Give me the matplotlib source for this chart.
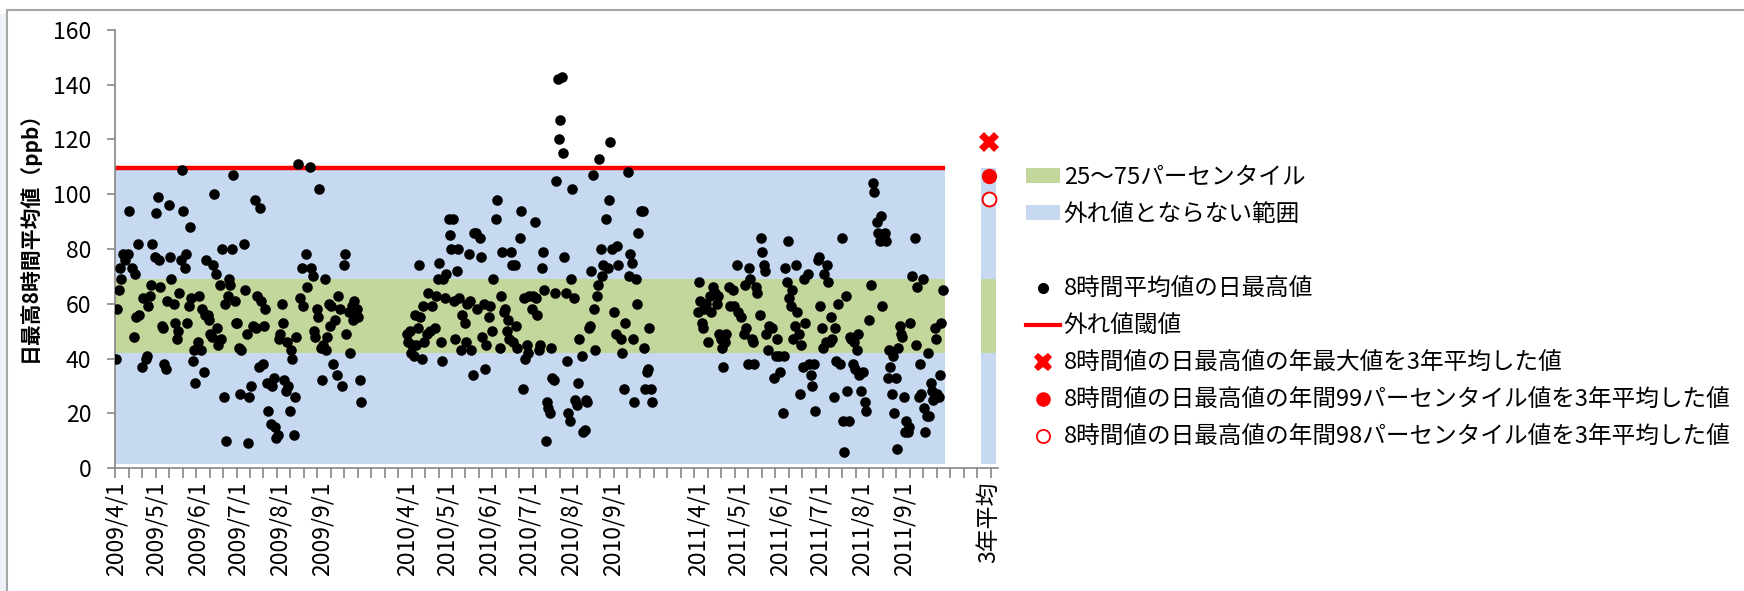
import numpy as np
import matplotlib.pyplot as plt
from matplotlib.patches import Patch, Rectangle
from matplotlib.lines import Line2D

plt.rcParams['font.family'] = ['Noto Sans CJK JP', 'DejaVu Sans']

# 日最高8時間平均値 (ppb)  day = 4/1からの日数
days_2009 = [0, 1, 2, 3, 4, 5, 7, 9, 10, 12, 13, 14, 15, 16, 17, 19, 20, 22, 23, 24,
             25, 26, 27, 29, 30, 31, 32, 33, 34, 35, 36, 37, 38, 39, 40, 41, 43, 44, 45, 46,
             47, 48, 49, 50, 51, 52, 53, 54, 55, 56, 57, 58, 59, 61, 62, 63, 64, 65, 66, 67,
             68, 69, 70, 71, 72, 73, 74, 75, 76, 77, 78, 79, 80, 81, 82, 83, 84, 85, 86, 87,
             88, 89, 90, 91, 92, 93, 95, 96, 97, 98, 99, 100, 102, 103, 104, 105, 106, 107, 108, 109,
             110, 111, 112, 113, 115, 116, 117, 118, 119, 120, 121, 122, 123, 124, 125, 126, 127, 128, 129, 130,
             131, 132, 133, 134, 135, 137, 138, 139, 141, 142, 144, 145, 146, 147, 148, 149, 150, 151, 152, 153,
             154, 155, 156, 157, 158, 159, 160, 161, 163, 164, 165, 166, 168, 169, 170, 171, 173, 174, 175, 176,
             177, 179, 180, 181, 182]
vals_2009 = [40, 58, 65, 73, 69, 78, 76, 78, 94, 73, 48, 71, 55, 82, 56, 37, 62, 40, 41, 59,
             63, 67, 82, 77, 93, 99, 76, 66, 52, 51, 38, 36, 61, 96, 77, 69, 60, 53, 47, 50,
             64, 76, 109, 94, 73, 78, 53, 59, 88, 62, 39, 43, 31, 46, 63, 43, 58, 35, 56, 76,
             56, 54, 49, 48, 74, 100, 71, 51, 45, 67, 47, 80, 26, 60, 10, 63, 69, 67, 80, 107,
             61, 53, 53, 44, 27, 43, 82, 65, 49, 9, 26, 30, 52, 98, 51, 63, 37, 95, 61, 38,
             52, 58, 31, 21, 16, 30, 33, 15, 11, 12, 47, 49, 60, 53, 32, 28, 46, 30, 21, 43,
             40, 12, 26, 48, 111, 62, 73, 59, 78, 66, 110, 73, 70, 50, 48, 58, 55, 102, 44, 32,
             45, 69, 43, 48, 60, 52, 59, 38, 54, 34, 63, 58, 30, 74, 78, 49, 57, 42, 59, 54,
             61, 58, 55, 32, 24]

days_2010 = [0, 1, 2, 3, 4, 5, 6, 7, 8, 9, 10, 11, 12, 13, 15, 16, 17, 19, 21, 22,
             23, 24, 25, 26, 27, 28, 29, 31, 32, 33, 34, 35, 36, 37, 38, 39, 40, 41, 43, 44,
             45, 46, 47, 48, 49, 50, 51, 52, 54, 55, 56, 57, 58, 59, 61, 62, 63, 64, 66, 67,
             69, 70, 71, 72, 73, 74, 75, 76, 77, 78, 79, 80, 81, 82, 84, 85, 86, 87, 88, 89,
             90, 91, 93, 94, 95, 96, 97, 98, 99, 100, 101, 102, 103, 104, 105, 106, 107, 108, 109, 110,
             111, 112, 113, 114, 115, 116, 117, 118, 119, 120, 121, 122, 123, 124, 125, 126, 127, 128, 130, 131,
             132, 133, 134, 135, 136, 137, 138, 139, 140, 141, 142, 143, 144, 145, 146, 148, 149, 150, 151, 152,
             154, 155, 156, 157, 159, 160, 161, 162, 164, 165, 166, 167, 168, 169, 170, 171, 172, 174, 175, 176,
             177, 178, 179, 180, 181, 182]
vals_2010 = [49, 46, 50, 42, 45, 41, 56, 45, 51, 74, 55, 40, 59, 46, 49, 64, 50, 59, 51, 63,
             69, 75, 46, 39, 69, 62, 71, 91, 85, 80, 91, 61, 47, 72, 80, 62, 43, 56, 53, 46,
             60, 78, 61, 43, 34, 86, 86, 58, 84, 77, 48, 60, 36, 45, 55, 59, 50, 69, 91, 98,
             44, 63, 79, 57, 58, 50, 54, 47, 79, 74, 46, 74, 52, 44, 84, 94, 29, 62, 40, 45,
             42, 63, 58, 63, 90, 62, 56, 43, 45, 73, 79, 65, 10, 24, 22, 20, 44, 33, 32, 64,
             105, 142, 120, 127, 143, 115, 77, 64, 39, 20, 17, 69, 102, 62, 25, 23, 31, 47, 41, 13,
             14, 25, 24, 51, 52, 72, 107, 58, 43, 63, 67, 113, 80, 70, 74, 91, 73, 98, 119, 80,
             57, 49, 81, 74, 47, 42, 29, 53, 108, 70, 78, 75, 47, 24, 69, 60, 86, 94, 94, 44,
             29, 35, 36, 51, 29, 24]

days_2011 = [0, 1, 2, 3, 4, 5, 6, 8, 9, 10, 11, 13, 14, 15, 16, 17, 18, 19, 20, 21,
             23, 24, 26, 27, 29, 30, 32, 34, 35, 36, 37, 38, 39, 40, 41, 42, 43, 44, 46, 47,
             48, 49, 50, 51, 52, 53, 55, 57, 58, 59, 60, 61, 63, 64, 65, 66, 67, 68, 69, 70,
             71, 72, 73, 74, 75, 76, 77, 78, 79, 80, 82, 83, 84, 85, 86, 87, 89, 90, 91, 92,
             93, 94, 95, 96, 97, 98, 99, 100, 101, 102, 103, 104, 106, 107, 108, 109, 110, 111, 112, 113,
             114, 115, 116, 117, 118, 119, 120, 121, 123, 124, 125, 127, 129, 130, 131, 133, 134, 135, 136, 137,
             139, 140, 141, 142, 143, 144, 145, 146, 147, 148, 149, 150, 151, 152, 153, 154, 155, 156, 157, 158,
             159, 161, 162, 163, 164, 165, 166, 167, 168, 169, 170, 171, 172, 173, 174, 175, 176, 177, 178, 179,
             180, 181, 182]
vals_2011 = [57, 68, 61, 53, 51, 58, 60, 46, 63, 57, 66, 64, 60, 63, 49, 47, 44, 37, 46, 49,
             66, 59, 65, 59, 74, 57, 55, 49, 67, 51, 38, 73, 69, 47, 46, 38, 66, 64, 56, 84,
             79, 74, 72, 49, 43, 52, 51, 33, 41, 47, 41, 35, 20, 41, 73, 68, 83, 62, 59, 65,
             47, 52, 74, 57, 49, 27, 45, 37, 69, 53, 71, 38, 34, 30, 38, 21, 76, 77, 59, 51,
             44, 71, 46, 74, 68, 46, 55, 47, 26, 51, 39, 60, 38, 84, 17, 6, 63, 28, 17, 48,
             47, 38, 46, 36, 43, 49, 34, 28, 35, 24, 21, 54, 67, 104, 101, 90, 86, 83, 92, 59,
             86, 83, 33, 43, 37, 27, 41, 20, 33, 7, 44, 52, 49, 48, 26, 13, 17, 13, 15, 53,
             70, 84, 45, 66, 26, 38, 27, 69, 22, 13, 19, 42, 19, 31, 28, 25, 51, 47, 27, 26,
             34, 53, 65]

# 25・75パーセンタイル値と3年平均値
q25, q75 = 42.0, 69.0
avg_max = 119.2
avg_p99 = 106.8
avg_p98 = 98.4

iqr = q75 - q25
lower = q25 - 1.5 * iqr
upper = q75 + 1.5 * iqr

years = [days_2009, days_2010, days_2011]
values = [vals_2009, vals_2010, vals_2011]
year_names = ['2009', '2010', '2011']
month_days = [0, 30, 61, 91, 122, 153]
month_names = ['4/1', '5/1', '6/1', '7/1', '8/1', '9/1']

span = 216        # 1年分の区切り（183日＋空白）
n_days = 183
avg_pos = 648

fig = plt.figure(figsize=(17.44, 5.91), dpi=100)
ax = fig.add_axes([115 / 1744, 1 - 468 / 591, (998 - 115) / 1744, (468 - 30) / 591])

blue = '#c6d9f1'
green = '#c3d69b'
x_end = 2 * span + n_days + 0.5
ax.fill_between([-0.75, x_end], lower, upper, color=blue, lw=0, zorder=1)
ax.fill_between([-0.75, x_end], q25, q75, color=green, lw=0, zorder=1)
ax.plot([-0.75, x_end], [upper, upper], color='#ff0000', lw=3.2, zorder=2,
        solid_capstyle='butt')

ax.bar(avg_pos, upper - lower, bottom=lower, width=11, color=blue, lw=0, zorder=1)
ax.bar(avg_pos, q75 - q25, bottom=q25, width=11, color=green, lw=0, zorder=1)

for i, (d, v) in enumerate(zip(years, values)):
    x = np.array(d) + i * span
    ax.scatter(x, v, s=58, color='black', linewidths=0, zorder=3)

ax.plot(avg_pos, avg_max, marker='X', color='#ff0000', ms=14, mew=0, ls='none', zorder=4)
ax.plot(avg_pos, avg_p99, marker='o', color='#ff0000', ms=11, mew=0, ls='none', zorder=4)
ax.plot(avg_pos, avg_p98, marker='o', mfc='white', mec='#ff0000', ms=10, mew=1.4,
        ls='none', zorder=4)

ax.set_xlim(-0.75, 655)
ax.set_ylim(0, 160)
ax.set_yticks(np.arange(0, 161, 20))

ticks, labels = [], []
for i, y in enumerate(year_names):
    for md, mn in zip(month_days, month_names):
        ticks.append(i * span + md)
        labels.append(f'{y}/{mn}')
ticks.append(avg_pos)
labels.append('3年平均')
ax.set_xticks(ticks)
ax.set_xticklabels(labels, rotation=90)
ax.set_xticks(np.arange(-0.5, 656, 10), minor=True)

gray = '#868686'
for s in ['top', 'right']:
    ax.spines[s].set_visible(False)
for s in ['left', 'bottom']:
    ax.spines[s].set_color(gray)
    ax.spines[s].set_linewidth(1.2)
ax.tick_params(axis='y', direction='out', length=6, width=1.2, color=gray,
               labelsize=16.5, pad=11)
ax.tick_params(axis='x', which='major', length=0, labelsize=16.5, pad=10)
ax.tick_params(axis='x', which='minor', direction='out', length=7, width=1.2, color=gray)

fig.text(29 / 1744, 1 - 231 / 591, '日最高8時間平均値（ppb）', rotation=90,
         ha='center', va='center', fontsize=15, fontweight='bold')

handles = [
    Patch(facecolor=green, edgecolor='none'),
    Patch(facecolor=blue, edgecolor='none'),
    Patch(facecolor='none', edgecolor='none'),
    Line2D([], [], marker='o', color='black', ms=7, ls='none'),
    Line2D([], [], color='#ff0000', lw=3),
    Line2D([], [], marker='X', color='#ff0000', ms=13, mew=0, ls='none'),
    Line2D([], [], marker='o', color='#ff0000', ms=10.5, mew=0, ls='none'),
    Line2D([], [], marker='o', mfc='white', mec='#ff0000', ms=9.5, mew=1.3, ls='none'),
]
names = [
    '25～75パーセンタイル',
    '外れ値とならない範囲',
    '\u3000',
    '8時間平均値の日最高値',
    '外れ値閾値',
    '8時間値の日最高値の年最大値を3年平均した値',
    '8時間値の日最高値の年間99パーセンタイル値を3年平均した値',
    '8時間値の日最高値の年間98パーセンタイル値を3年平均した値',
]
fig.legend(handles, names, loc='upper left', bbox_to_anchor=(1026 / 1744, 1 - 166 / 591),
           frameon=False, fontsize=17, handlelength=1.45, handleheight=0.6,
           handletextpad=0.15, labelspacing=0.6, borderaxespad=0, borderpad=0)

# グラフエリアの枠
fig.add_artist(Line2D([7 / 1744, 1], [1 - 10 / 591] * 2, color='#a6a6a6', lw=1.5))
fig.add_artist(Line2D([7 / 1744, 7 / 1744], [0, 1 - 10 / 591], color='#a6a6a6', lw=1.5))
fig.add_artist(Rectangle((0, 0), 6 / 1744, 1 - 14 / 591, transform=fig.transFigure,
                         facecolor='#edf3f8', edgecolor='none'))

fig.savefig('out.png', dpi=100)
